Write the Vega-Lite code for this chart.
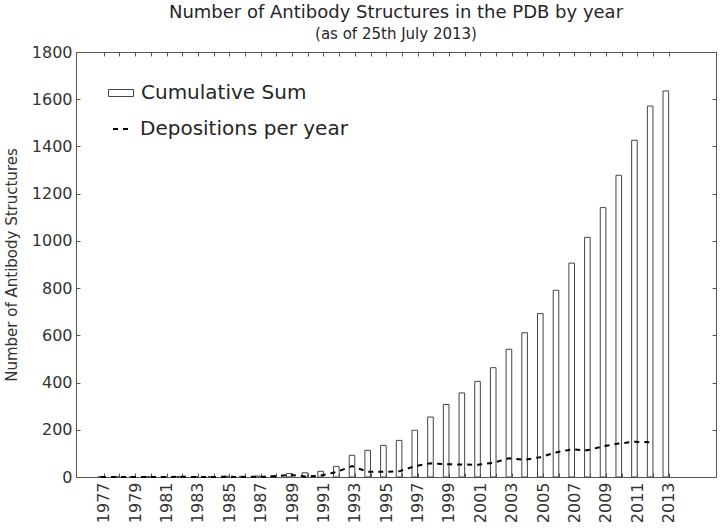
{
  "$schema": "https://vega.github.io/schema/vega-lite/v6.json",
  "width": 640,
  "height": 425,
  "autosize": {"type": "none"},
  "padding": {"left": 76, "top": 52, "right": 4, "bottom": 51},
  "background": "white",
  "title": {
    "text": "Number of Antibody Structures in the PDB by year",
    "subtitle": "(as of 25th July 2013)",
    "anchor": "middle",
    "frame": "group",
    "font": "DejaVu Sans",
    "fontSize": 18,
    "fontWeight": "normal",
    "color": "#262626",
    "subtitleFont": "DejaVu Sans",
    "subtitleFontSize": 15,
    "subtitleColor": "#262626",
    "subtitlePadding": 5,
    "offset": 2
  },
  "config": {
    "view": {"stroke": "#555", "strokeWidth": 1},
    "axis": {
      "grid": false,
      "domain": false,
      "labelFont": "DejaVu Sans",
      "titleFont": "DejaVu Sans",
      "labelColor": "#333",
      "titleColor": "#333",
      "tickColor": "#555",
      "labelFontSize": 16,
      "titleFontSize": 15,
      "titleFontWeight": "normal"
    },
    "legend": {
      "labelFont": "DejaVu Sans",
      "labelFontSize": 20,
      "labelColor": "#262626",
      "labelLimit": 0,
      "padding": 0,
      "titlePadding": 0
    }
  },
  "data": {
    "values": [
      {"year": 1977, "cum": 1, "dep": 0},
      {"year": 1978, "cum": 1, "dep": 0},
      {"year": 1979, "cum": 1, "dep": 0},
      {"year": 1980, "cum": 1, "dep": 0},
      {"year": 1981, "cum": 1, "dep": 0},
      {"year": 1982, "cum": 2, "dep": 1},
      {"year": 1983, "cum": 2, "dep": 0},
      {"year": 1984, "cum": 2, "dep": 0},
      {"year": 1985, "cum": 3, "dep": 1},
      {"year": 1986, "cum": 3, "dep": 0},
      {"year": 1987, "cum": 4, "dep": 1},
      {"year": 1988, "cum": 6, "dep": 2},
      {"year": 1989, "cum": 15, "dep": 9},
      {"year": 1990, "cum": 18, "dep": 2},
      {"year": 1991, "cum": 24, "dep": 6},
      {"year": 1992, "cum": 45, "dep": 21},
      {"year": 1993, "cum": 92, "dep": 46},
      {"year": 1994, "cum": 113, "dep": 22},
      {"year": 1995, "cum": 134, "dep": 22},
      {"year": 1996, "cum": 155, "dep": 24},
      {"year": 1997, "cum": 198, "dep": 46},
      {"year": 1998, "cum": 254, "dep": 58},
      {"year": 1999, "cum": 307, "dep": 54},
      {"year": 2000, "cum": 356, "dep": 53},
      {"year": 2001, "cum": 405, "dep": 52},
      {"year": 2002, "cum": 463, "dep": 60},
      {"year": 2003, "cum": 541, "dep": 79},
      {"year": 2004, "cum": 611, "dep": 73},
      {"year": 2005, "cum": 692, "dep": 84},
      {"year": 2006, "cum": 791, "dep": 104},
      {"year": 2007, "cum": 906, "dep": 117},
      {"year": 2008, "cum": 1015, "dep": 113},
      {"year": 2009, "cum": 1141, "dep": 130},
      {"year": 2010, "cum": 1278, "dep": 142},
      {"year": 2011, "cum": 1426, "dep": 149},
      {"year": 2012, "cum": 1571, "dep": 147},
      {"year": 2013, "cum": 1635}
    ]
  },
  "layer": [
    {
      "mark": {"type": "bar", "width": 5.6, "xOffset": -2.8, "stroke": "#444", "strokeWidth": 1},
      "encoding": {
        "x": {
          "field": "year", "type": "quantitative",
          "scale": {"domain": [1975.55, 2015.7], "nice": false, "zero": false},
          "axis": {
            "orient": "bottom",
            "values": [1977,1978,1979,1980,1981,1982,1983,1984,1985,1986,1987,1988,1989,1990,1991,1992,1993,1994,1995,1996,1997,1998,1999,2000,2001,2002,2003,2004,2005,2006,2007,2008,2009,2010,2011,2012,2013],
            "format": "d",
            "labelExpr": "datum.value % 2 == 1 ? datum.label : ''",
            "labelAngle": -90,
            "labelOverlap": false,
            "labelFlush": false,
            "labelBound": false,
            "tickSize": -4,
            "labelPadding": 9,
            "title": null
          }
        },
        "y": {
          "field": "cum", "type": "quantitative",
          "scale": {"domain": [0, 1800], "nice": false},
          "axis": {
            "orient": "left",
            "values": [0,200,400,600,800,1000,1200,1400,1600,1800],
            "format": "d",
            "tickSize": -4,
            "labelPadding": 8,
            "labelOverlap": false,
            "labelFlush": false,
            "title": "Number of Antibody Structures",
            "titlePadding": 12
          }
        },
        "fill": {
          "datum": "Cumulative Sum",
          "type": "nominal",
          "scale": {"range": ["white"]},
          "legend": {
            "title": null,
            "orient": "none",
            "legendX": 32,
            "legendY": 28,
            "symbolType": "M-1,-0.28H1V0.28H-1Z",
            "symbolSize": 625,
            "symbolStrokeColor": "#444",
            "symbolStrokeWidth": 1,
            "symbolFillColor": "white",
            "labelOffset": 7
          }
        }
      }
    },
    {
      "transform": [{"filter": "isValid(datum.dep)"}],
      "mark": {"type": "line", "stroke": "black", "strokeWidth": 2, "xOffset": -2.8},
      "encoding": {
        "x": {
          "field": "year", "type": "quantitative",
          "axis": {
            "orient": "top",
            "values": [1977,1978,1979,1980,1981,1982,1983,1984,1985,1986,1987,1988,1989,1990,1991,1992,1993,1994,1995,1996,1997,1998,1999,2000,2001,2002,2003,2004,2005,2006,2007,2008,2009,2010,2011,2012,2013],
            "labels": false,
            "tickSize": -4,
            "title": null
          }
        },
        "y": {
          "field": "dep", "type": "quantitative",
          "axis": {
            "orient": "right",
            "values": [0,200,400,600,800,1000,1200,1400,1600,1800],
            "labels": false,
            "tickSize": -4,
            "title": null
          }
        },
        "strokeDash": {
          "datum": "Depositions per year",
          "type": "nominal",
          "scale": {"range": [[5, 5]]},
          "legend": {
            "title": null,
            "orient": "none",
            "legendX": 34.5,
            "legendY": 67,
            "symbolType": "stroke",
            "symbolSize": 225,
            "symbolStrokeColor": "black",
            "symbolStrokeWidth": 2,
            "labelOffset": 9.5
          }
        }
      }
    }
  ],
  "resolve": {"axis": {"x": "independent", "y": "independent"}}
}
